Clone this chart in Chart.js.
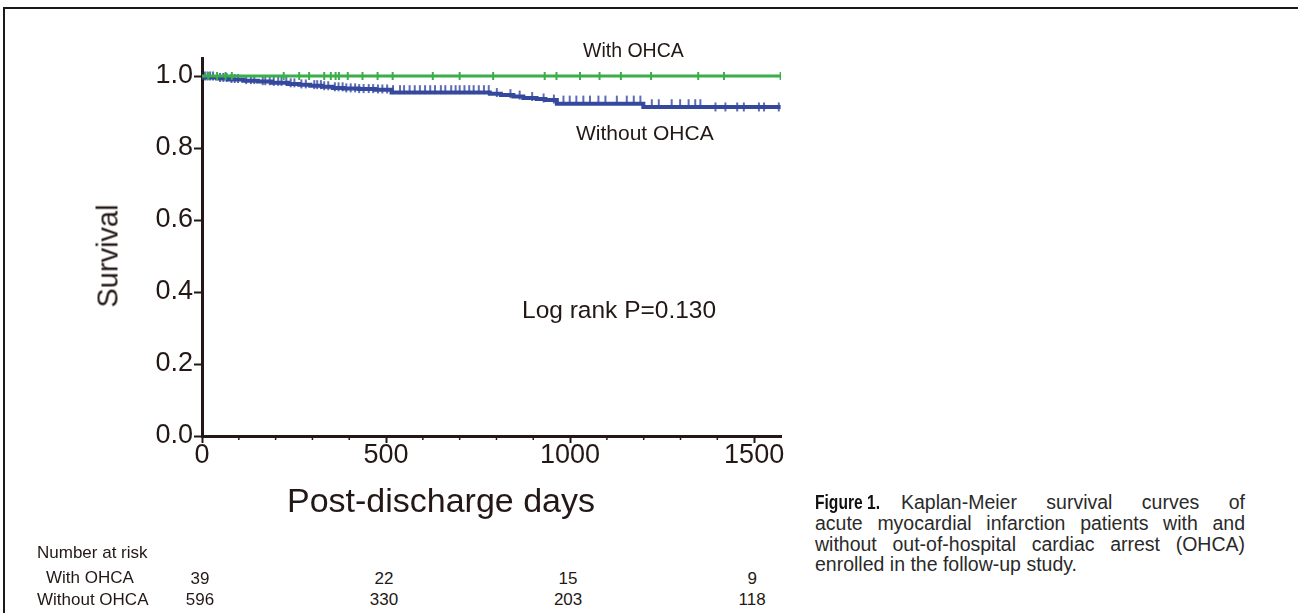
<!DOCTYPE html>
<html>
<head>
<meta charset="utf-8">
<script src="https://cdn.jsdelivr.net/npm/chart.js@4.4.0/dist/chart.umd.min.js"></script>
<style>
  html,body{margin:0;padding:0;background:#fff;}
  body{width:1298px;height:613px;position:relative;overflow:hidden;
       font-family:"Liberation Sans",Arial,Helvetica,sans-serif;color:#231815;}
  #frame{position:absolute;left:3px;top:7px;right:-10px;bottom:-10px;
         border-top:2px solid #1a1a1a;border-left:2px solid #1a1a1a;}
  #wrap{position:absolute;left:0;top:0;width:800px;height:560px;}
  .txt{position:absolute;white-space:nowrap;line-height:1;}
  .risk{position:absolute;white-space:nowrap;font-size:17px;line-height:1;transform:translate(-50%,-50%);}
  #caption{position:absolute;left:815px;top:492px;width:430px;font-size:19.5px;line-height:20.8px;color:#2a2a2a;}
  #caption div{text-align:justify;text-align-last:justify;white-space:nowrap;}
  #caption div.first{display:flex;justify-content:space-between;}
  #caption div.last{text-align-last:left;}
  #caption b{display:inline-block;transform:scaleX(0.8);transform-origin:left center;
             margin-right:-17px;color:#111;}
</style>
</head>
<body>
<div id="frame"></div>
<div id="wrap"><canvas id="kmChart"></canvas></div>

<div class="txt" style="left:108px;top:256px;font-size:29px;transform:translate(-50%,-50%) rotate(-90deg);">Survival</div>
<div class="txt" style="left:441px;top:500px;font-size:34px;transform:translate(-50%,-50%);">Post-discharge days</div>

<div class="txt" style="left:583px;top:41px;font-size:19.5px;">With OHCA</div>
<div class="txt" style="left:576px;top:122px;font-size:21px;">Without OHCA</div>
<div class="txt" style="left:522px;top:298px;font-size:24.5px;">Log rank P=0.130</div>

<div class="txt" style="left:37px;top:544px;font-size:17px;">Number at risk</div>
<div class="txt" style="left:46px;top:569px;font-size:17px;">With OHCA</div>
<div class="txt" style="left:37px;top:591px;font-size:17px;">Without OHCA</div>
<div id="riskCells"></div>

<div id="caption">
  <div class="first"><span><b>Figure&nbsp;1.</b>&nbsp;&nbsp;&nbsp; Kaplan-Meier</span><span>survival</span><span>curves</span><span>of</span></div>
  <div>acute myocardial infarction patients with and</div>
  <div>without out-of-hospital cardiac arrest (OHCA)</div>
  <div class="last">enrolled in the follow-up study.</div>
</div>

<script>
// ========================== DATA ==========================
const xTicks = [0, 500, 1000, 1500];
const xMinorTicks = [100, 200, 300, 400, 600, 700, 800, 900, 1100, 1200, 1300, 1400];
const yTicks = [0, 0.2, 0.4, 0.6, 0.8, 1.0];

// With OHCA: no events
const withDays = [0, 1572];
const withSurv = [1.0, 1.0];
const withCensored = [17, 41, 64, 81, 222, 264, 291, 332, 350, 363, 372, 396, 436, 477, 518,
  627, 700, 791, 931, 963, 1027, 1080, 1138, 1220, 1348, 1418, 1572];

// Without OHCA: step points (day, survival after the step)
const withoutDays = [0, 41, 71, 112, 152, 190, 234, 264, 294, 326, 355, 385, 426, 470, 515,
  782, 812, 846, 873, 909, 933, 964, 1199, 1362, 1572];
const withoutSurv = [1.0, 0.996, 0.993, 0.990, 0.987, 0.985, 0.981, 0.978, 0.976, 0.973, 0.970,
  0.967, 0.965, 0.964, 0.962, 0.954, 0.951, 0.947, 0.943, 0.939, 0.936, 0.933, 0.923, 0.914, 0.914];
const withoutCensored = [8, 15, 22, 30, 49, 58, 67, 80, 89, 98, 120, 133, 142, 165, 172, 184,
  195, 207, 216, 229, 241, 251, 270, 282, 305, 313, 323, 332, 343, 361, 371, 382, 392, 404, 416,
  427, 439, 453, 465, 478, 490, 503, 519, 538, 549, 564, 578, 592, 606, 620, 633, 649, 661, 677,
  689, 700, 713, 726, 738, 752, 766, 779, 801, 838, 863, 897, 928, 956, 982, 999, 1017, 1036,
  1054, 1077, 1096, 1127, 1154, 1173, 1191, 1222, 1241, 1276, 1299, 1322, 1340, 1354, 1395,
  1422, 1454, 1472, 1513, 1527, 1567];

// Number at risk
const riskDays = [0, 500, 1000, 1500];
const riskWith = [39, 22, 15, 9];
const riskWithout = [596, 330, 203, 118];

// ========================== STYLE ==========================
const INK = "#231815";
const GREEN = "#3aae48";
const BLUE = "#34499e";

// ========================== HELPERS ==========================
function pts(days, surv){
  return days.map((d,i)=>({x:d, y:surv[i]}));
}

// survival level of a step curve on a given day
function survAt(days, surv, t){
  let s = surv[0];
  for(let i=0;i<days.length;i++){
    if(days[i] <= t) s = surv[i];
  }
  return s;
}

function marks(days, surv, censored){
  return censored.map(d=>({x:d, y:survAt(days, surv, d)}));
}

// ========================== PLUGINS ==========================
const minorTicks = {
  id:"minorTicks",
  afterDraw(chart){
    const ctx = chart.ctx;
    const xs = chart.scales.x;
    const y0 = chart.chartArea.bottom;
    ctx.save();
    ctx.strokeStyle = INK;
    ctx.lineWidth = 1.5;
    xMinorTicks.forEach(v=>{
      const px = xs.getPixelForValue(v);
      ctx.beginPath();
      ctx.moveTo(px, y0);
      ctx.lineTo(px, y0 + 4);
      ctx.stroke();
    });
    ctx.restore();
  }
};

const riskTable = {
  id:"riskTable",
  afterDraw(chart){
    const xs = chart.scales.x;
    const box = document.getElementById("riskCells");
    box.innerHTML = "";
    riskDays.forEach((d,i)=>{
      const px = xs.getPixelForValue(d) - 2;
      const a = document.createElement("div");
      a.className = "risk";
      a.style.left = px + "px";
      a.style.top = "578px";
      a.innerText = riskWith[i];
      box.appendChild(a);
      const b = document.createElement("div");
      b.className = "risk";
      b.style.left = px + "px";
      b.style.top = "599px";
      b.innerText = riskWithout[i];
      box.appendChild(b);
    });
  }
};

// ========================== CHART ==========================
function initChart(){
  const ctx = document.getElementById("kmChart").getContext("2d");
  new Chart(ctx,{
    type:"scatter",
    data:{
      datasets:[
        {
          label:"With OHCA",
          data:pts(withDays, withSurv),
          showLine:true,
          stepped:"after",
          borderColor:GREEN,
          borderWidth:3,
          pointRadius:0
        },
        {
          label:"With OHCA censored",
          data:marks(withDays, withSurv, withCensored),
          showLine:false,
          pointStyle:"line",
          rotation:90,
          pointRadius:4,
          borderColor:GREEN,
          borderWidth:2
        },
        {
          label:"Without OHCA",
          data:pts(withoutDays, withoutSurv),
          showLine:true,
          stepped:"after",
          borderColor:BLUE,
          borderWidth:4,
          pointRadius:0
        },
        {
          label:"Without OHCA censored",
          data:marks(withoutDays, withoutSurv, withoutCensored),
          showLine:false,
          pointStyle:"line",
          rotation:90,
          pointRadius:4.5,
          borderColor:"rgba(52,73,158,0.8)",
          borderWidth:2
        }
      ]
    },
    options:{
      responsive:true,
      maintainAspectRatio:false,
      animation:false,
      events:[],
      layout:{ padding:{ top:58, right:19, left:0, bottom:0 } },
      plugins:{ legend:{display:false}, tooltip:{enabled:false} },
      scales:{
        x:{
          type:"linear",
          min:0, max:1573,
          afterBuildTicks:(s)=>{ s.ticks = xTicks.map(v=>({value:v})); },
          afterFit:(s)=>{ s.height = 124; },
          ticks:{
            autoSkip:false, maxRotation:0, padding:-4,
            color:INK,
            font:{ family:"'Liberation Sans', Arial, sans-serif", size:27 },
            callback:(v)=>String(v)
          },
          grid:{ drawOnChartArea:false, tickLength:7, tickWidth:2, tickColor:INK },
          border:{ display:true, color:INK, width:3 }
        },
        y:{
          type:"linear",
          min:0, max:1.05,
          afterBuildTicks:(s)=>{ s.ticks = yTicks.map(v=>({value:v})); },
          afterFit:(s)=>{ s.width = 202; },
          ticks:{
            autoSkip:false, padding:1,
            color:INK,
            font:{ family:"'Liberation Sans', Arial, sans-serif", size:27 },
            callback:(v)=>Number(v).toFixed(1)
          },
          grid:{ drawOnChartArea:false, tickLength:8, tickWidth:2, tickColor:INK },
          border:{ display:true, color:INK, width:3 }
        }
      }
    },
    plugins:[minorTicks, riskTable]
  });
}

// ========================== INITIALIZE ==========================
initChart();
</script>
</body>
</html>
